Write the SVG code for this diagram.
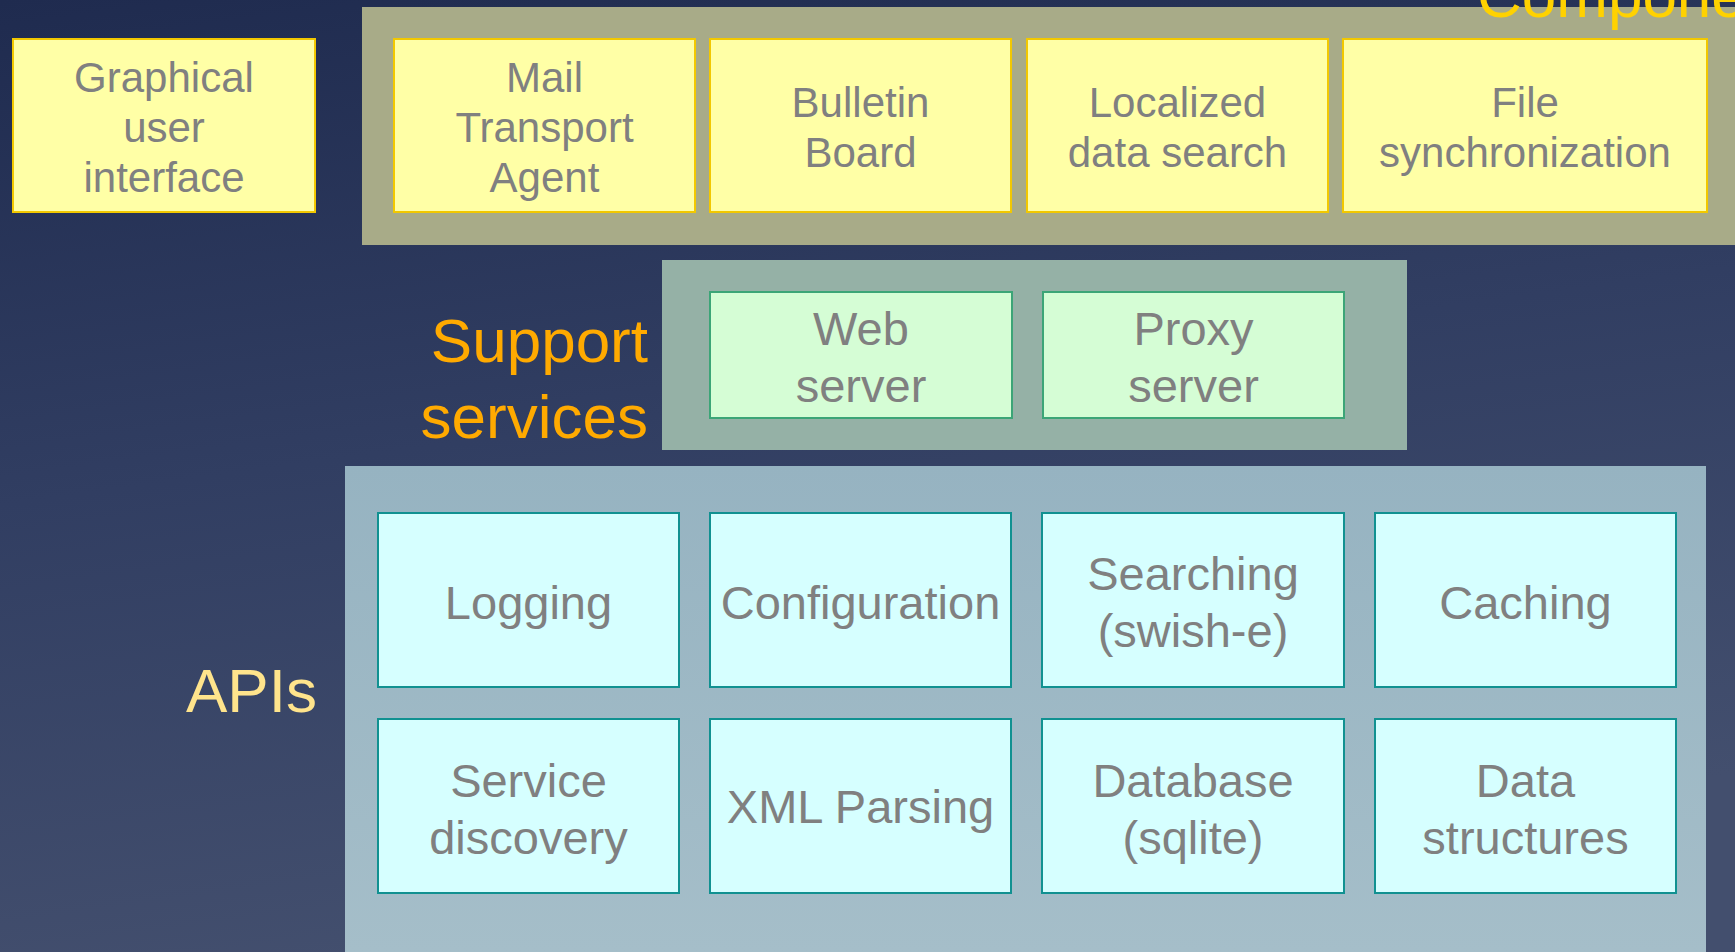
<svg xmlns="http://www.w3.org/2000/svg" width="1735" height="952" viewBox="0 0 1735 952">
<defs>
<linearGradient id="bg" x1="0" y1="0" x2="0.25" y2="1">
<stop offset="0" stop-color="#1f2b4f"/>
<stop offset="0.5" stop-color="#313e62"/>
<stop offset="1" stop-color="#434f6e"/>
</linearGradient>
<linearGradient id="apibg" x1="0" y1="0" x2="0" y2="1">
<stop offset="0" stop-color="#96b3c1"/>
<stop offset="1" stop-color="#a5bec9"/>
</linearGradient>
<style>
.t{font-family:"Liberation Sans",Arial,sans-serif;fill:#808080;text-anchor:middle}
.t42{font-size:42px}
.t47{font-size:47px}
.y{fill:#ffffa6;stroke:#f2c800;stroke-width:2}
.g{fill:#d5fdd5;stroke:#3ca577;stroke-width:2}
.c{fill:#d6ffff;stroke:#119191;stroke-width:2}
.lbl{font-family:"Liberation Sans",Arial,sans-serif;font-size:62px}
</style>
</defs>
<rect x="0" y="0" width="1735" height="952" fill="url(#bg)"/>
<g id="panels">
<rect x="362" y="7" width="1373" height="238" fill="#a8ab88"/>
<rect x="662" y="260" width="745" height="190" fill="#95b1a6"/>
<rect x="345" y="466" width="1361" height="486" fill="url(#apibg)"/>
</g>
<g id="labels">
<text class="lbl" x="1477" y="17" fill="#ffd200">Components</text>
<text class="lbl" x="648" y="362" fill="#ffaa00" text-anchor="end">Support</text>
<text class="lbl" x="648" y="438" fill="#ffaa00" text-anchor="end">services</text>
<text class="lbl" x="186" y="712" fill="#ffe48c">APIs</text>
</g>
<g id="connectors"/>
<g id="gui"><rect class="y" x="13" y="39" width="302" height="173"/><text class="t t42" x="164" y="92">Graphical</text><text class="t t42" x="164" y="142">user</text><text class="t t42" x="164" y="192">interface</text></g>
<g id="mta"><rect class="y" x="394" y="39" width="301" height="173"/><text class="t t42" x="544.5" y="92">Mail</text><text class="t t42" x="544.5" y="142">Transport</text><text class="t t42" x="544.5" y="192">Agent</text></g>
<g id="bulletin"><rect class="y" x="710" y="39" width="301" height="173"/><text class="t t42" x="860.5" y="117">Bulletin</text><text class="t t42" x="860.5" y="167">Board</text></g>
<g id="localized"><rect class="y" x="1027" y="39" width="301" height="173"/><text class="t t42" x="1177.5" y="117">Localized</text><text class="t t42" x="1177.5" y="167">data search</text></g>
<g id="filesync"><rect class="y" x="1343" y="39" width="364" height="173"/><text class="t t42" x="1525" y="117">File</text><text class="t t42" x="1525" y="167">synchronization</text></g>
<g id="webserver"><rect class="g" x="710" y="292" width="302" height="126"/><text class="t t47" x="861" y="345">Web</text><text class="t t47" x="861" y="402">server</text></g>
<g id="proxyserver"><rect class="g" x="1043" y="292" width="301" height="126"/><text class="t t47" x="1193.5" y="345">Proxy</text><text class="t t47" x="1193.5" y="402">server</text></g>
<g id="logging"><rect class="c" x="378" y="513" width="301" height="174"/><text class="t t47" x="528.5" y="619">Logging</text></g>
<g id="configuration"><rect class="c" x="710" y="513" width="301" height="174"/><text class="t t47" x="860.5" y="619">Configuration</text></g>
<g id="searching"><rect class="c" x="1042" y="513" width="302" height="174"/><text class="t t47" x="1193" y="590">Searching</text><text class="t t47" x="1193" y="647">(swish-e)</text></g>
<g id="caching"><rect class="c" x="1375" y="513" width="301" height="174"/><text class="t t47" x="1525.5" y="619">Caching</text></g>
<g id="servicediscovery"><rect class="c" x="378" y="719" width="301" height="174"/><text class="t t47" x="528.5" y="797">Service</text><text class="t t47" x="528.5" y="854">discovery</text></g>
<g id="xmlparsing"><rect class="c" x="710" y="719" width="301" height="174"/><text class="t t47" x="860.5" y="823">XML Parsing</text></g>
<g id="database"><rect class="c" x="1042" y="719" width="302" height="174"/><text class="t t47" x="1193" y="797">Database</text><text class="t t47" x="1193" y="854">(sqlite)</text></g>
<g id="datastructures"><rect class="c" x="1375" y="719" width="301" height="174"/><text class="t t47" x="1525.5" y="797">Data</text><text class="t t47" x="1525.5" y="854">structures</text></g>
</svg>
